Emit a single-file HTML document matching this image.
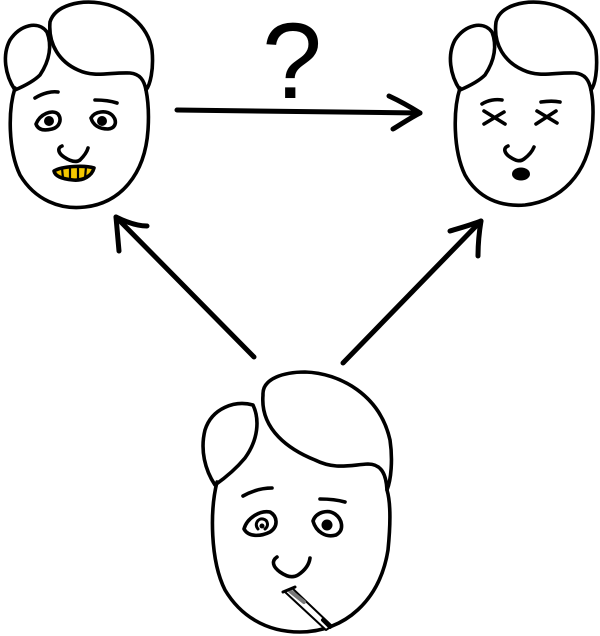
<!DOCTYPE html>
<html><head><meta charset="utf-8"><style>
html,body{margin:0;padding:0;background:#fff;width:600px;height:636px;overflow:hidden}
svg{display:block}
</style></head><body>
<svg width="600" height="636" viewBox="0 0 600 636" xmlns="http://www.w3.org/2000/svg" fill="none" stroke="#000" stroke-width="3.6" stroke-linecap="round" stroke-linejoin="round">
<!-- LEFT FACE -->
<g>
  <path d="M15,88 C8,110 8,150 20,175 C35,200 60,210 85,207 C120,203 145,175 148,130 C149,115 148,100 146,90"/>
  <path d="M15,90 C5,75 2,55 10,40 C20,25 38,20 47,32 C52,45 50,60 40,75 C33,82 22,87 15,90"/>
  <path d="M50,22 C55,5 80,0 100,3 C125,7 148,25 152,50 C154,70 150,85 146,90 C144,80 140,74 130,73 C110,72 95,78 78,70 C60,62 48,45 50,22"/>
  <path d="M35,98 C43,93 52,91 58,92"/>
  <path d="M95,100 C104,100 111,101 117,103"/>
  <path d="M36,124 C40,114 52,109 58,114 C62,119 60,127 52,129 C44,131 38,130 36,124Z"/>
  <circle cx="49" cy="121" r="5" fill="#000" stroke="none"/>
  <path d="M91,118 C95,111 106,110 112,115 C117,120 117,128 108,129 C99,129 93,125 91,118Z"/>
  <circle cx="102" cy="121" r="5" fill="#000" stroke="none"/>
  <path d="M62,146 C57,148 58,153 64,157 C70,161 76,163 80,160 C84,156 87,152 88,148"/>
  <path d="M54,171 C62,166 85,165 94,168 C92,176 83,181 73,180 C62,179 55,176 54,171Z" fill="#f5c800"/>
  <path d="M62,168 L63,178 M70,167 L70,180 M78,167 L78,180 M86,167 L85,178" stroke-width="2.2"/>
</g>
<!-- RIGHT FACE -->
<g>
  <path d="M460,88 C453,110 453,150 465,175 C478,198 500,207 525,205 C560,201 588,175 592,130 C594,112 593,100 591,90"/>
  <path d="M460,90 C450,75 447,55 455,40 C465,25 483,20 492,32 C497,45 495,60 485,75 C478,82 467,87 460,90"/>
  <path d="M496,22 C500,5 525,0 545,3 C570,7 592,25 596,50 C598,70 595,85 591,90 C589,80 585,74 575,73 C555,72 540,78 523,70 C505,62 493,45 496,22"/>
  <path d="M482,104 C488,100 496,99 502,100"/>
  <path d="M541,102 C548,101 555,101 560,102"/>
  <path d="M484,111 L505,124 M504,112 L484,124"/>
  <path d="M537,111 L557,123 M556,111 L536,124"/>
  <path d="M508,146 C503,148 504,153 510,157 C516,161 520,162 524,159 C528,156 532,152 534,147"/>
  <ellipse cx="521" cy="174" rx="9" ry="6.5" fill="#000" stroke="none"/>
</g>
<!-- BOTTOM FACE -->
<g>
  <path d="M217,482 C210,510 210,560 225,590 C240,615 265,632 300,632 C345,632 380,600 388,550 C391,520 390,500 387,490"/>
  <path d="M215,485 C205,470 200,450 205,430 C212,408 235,400 253,405 C260,420 258,440 245,458 C235,470 225,478 215,485"/>
  <path d="M263,395 C262,378 285,372 305,372 C340,373 380,395 390,440 C393,460 391,480 387,490 C386,472 380,464 368,464 C350,465 335,470 315,460 C290,450 260,430 263,395"/>
  <path d="M243,496 C252,491 262,488 272,488"/>
  <path d="M320,499 C330,499 338,500 345,502"/>
  <path d="M244,529 C247,518 260,510 270,512 C277,516 279,526 270,532 C262,536 249,538 244,529Z"/>
  <path d="M258,529 C254,524 258,518 263,519 C268,520 269,526 265,529" stroke-width="3"/>
  <circle cx="262" cy="526" r="2.5" fill="#000" stroke="none"/>
  <path d="M313,521 C316,512 328,509 335,514 C342,519 345,530 336,535 C326,538 316,532 313,521Z"/>
  <circle cx="327" cy="525" r="5.5" fill="#000" stroke="none"/>
  <path d="M277,557 C271,561 273,567 280,572 C287,577 293,578 298,575 C304,571 309,566 310,558"/>
  <path d="M285,592 L292,588 L332,626 L326,630 Z" stroke-width="2" fill="#fff"/>
  <path d="M290,591 L304,602" stroke="#777" stroke-width="4"/>
  <path d="M323,620 L330,627" stroke-width="4"/>
  <path d="M283,592 L295,587" stroke-width="3"/>
</g>
<!-- ARROWS -->
<g stroke-width="5">
  <path d="M177,110 C260,111 340,112 420,113"/>
  <path d="M389,96 C402,102 412,108 420,113 C410,118 400,125 393,129"/>
  <path d="M254,357 L116,217"/>
  <path d="M119,251 C118,240 117,228 116,217 C126,222 137,226 147,226"/>
  <path d="M343,363 L481,221"/>
  <path d="M450,231 C460,228 471,225 481,221 C479,233 478,245 478,256"/>
</g>
<text x="262" y="98" font-family="Liberation Sans, sans-serif" font-size="108" fill="#000" stroke="none">?</text>
</svg>
</body></html>
